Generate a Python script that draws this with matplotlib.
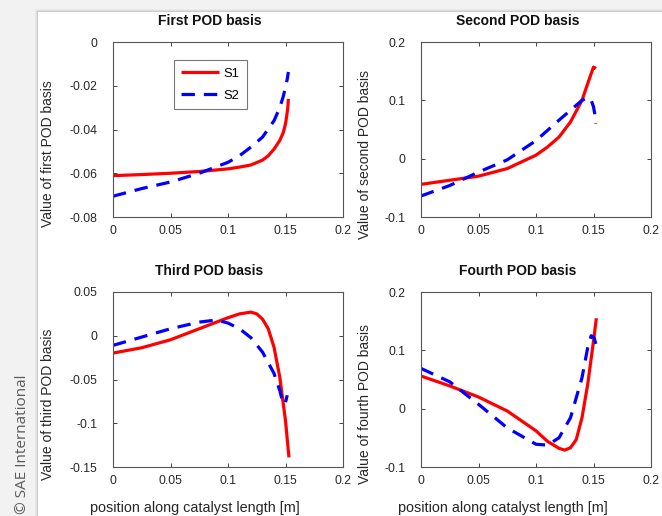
import matplotlib
matplotlib.use("Agg")
import matplotlib.pyplot as plt
from matplotlib.patches import Rectangle

plt.rcParams['font.family'] = ['Liberation Sans', 'DejaVu Sans']
plt.rcParams['axes.unicode_minus'] = False

# ---------------- data ----------------
x_ticks = [0, 0.05, 0.1, 0.15, 0.2]
x_tick_labels = ['0', '0.05', '0.1', '0.15', '0.2']

titles = ['First POD basis', 'Second POD basis', 'Third POD basis', 'Fourth POD basis']
ylabels = ['Value of first POD basis', 'Value of second POD basis',
           'Value of third POD basis', 'Value of fourth POD basis']
series_names = ['S1', 'S2']
xlabel_text = 'position along catalyst length [m]'

# First POD basis
b1_s1_x = [0, 0.025, 0.05, 0.075, 0.1, 0.11, 0.12, 0.13, 0.135, 0.14, 0.145, 0.148, 0.15, 0.151, 0.152, 0.1525]
b1_s1_y = [-0.0611, -0.0606, -0.060, -0.0592, -0.058, -0.0572, -0.0562, -0.054, -0.052, -0.049, -0.045,
           -0.0415, -0.0374, -0.034, -0.030, -0.026]
b1_s2_x = [0, 0.025, 0.05, 0.075, 0.1, 0.11, 0.12, 0.13, 0.14, 0.145, 0.148, 0.15, 0.1515, 0.1525]
b1_s2_y = [-0.0705, -0.067, -0.064, -0.060, -0.055, -0.052, -0.048, -0.0435, -0.036, -0.030, -0.025,
           -0.0206, -0.017, -0.0137]
b1_yticks = [-0.08, -0.06, -0.04, -0.02, 0]
b1_ylabels = ['-0.08', '-0.06', '-0.04', '-0.02', '0']

# Second POD basis
b2_s1_x = [0, 0.025, 0.05, 0.075, 0.1, 0.11, 0.12, 0.13, 0.14, 0.145, 0.15, 0.151, 0.152]
b2_s1_y = [-0.044, -0.037, -0.030, -0.017, 0.006, 0.020, 0.037, 0.063, 0.100, 0.129, 0.157, 0.156, 0.154]
b2_s2_x = [0, 0.025, 0.05, 0.075, 0.1, 0.12, 0.13, 0.14, 0.145, 0.148, 0.15, 0.151, 0.152]
b2_s2_y = [-0.064, -0.046, -0.023, -0.002, 0.031, 0.066, 0.083, 0.100, 0.105, 0.100, 0.089, 0.078, 0.060]
b2_yticks = [-0.1, 0, 0.1, 0.2]
b2_ylabels = ['-0.1', '0', '0.1', '0.2']

# Third POD basis
b3_s1_x = [0, 0.025, 0.05, 0.075, 0.1, 0.11, 0.12, 0.125, 0.13, 0.135, 0.14, 0.145, 0.15, 0.153]
b3_s1_y = [-0.0198, -0.0137, -0.0046, 0.008, 0.0206, 0.025, 0.027, 0.025, 0.019, 0.008, -0.013,
           -0.047, -0.097, -0.139]
b3_s2_x = [0, 0.025, 0.05, 0.075, 0.09, 0.1, 0.11, 0.12, 0.13, 0.14, 0.145, 0.148, 0.15, 0.1515]
b3_s2_y = [-0.011, -0.0015, 0.008, 0.0156, 0.018, 0.0145, 0.008, -0.0023, -0.0187, -0.043, -0.0625,
           -0.078, -0.076, -0.068]
b3_yticks = [-0.15, -0.1, -0.05, 0, 0.05]
b3_ylabels = ['-0.15', '-0.1', '-0.05', '0', '0.05']

# Fourth POD basis
b4_s1_x = [0, 0.025, 0.05, 0.075, 0.1, 0.11, 0.12, 0.125, 0.13, 0.135, 0.14, 0.145, 0.15, 0.1525]
b4_s1_y = [0.056, 0.039, 0.020, -0.004, -0.038, -0.056, -0.068, -0.071, -0.067, -0.053, -0.0155,
           0.042, 0.116, 0.155]
b4_s2_x = [0, 0.025, 0.05, 0.075, 0.1, 0.11, 0.12, 0.13, 0.14, 0.145, 0.148, 0.1505, 0.152]
b4_s2_y = [0.069, 0.046, 0.0075, -0.033, -0.061, -0.0625, -0.050, -0.0155, 0.053, 0.105, 0.125, 0.122, 0.111]
b4_yticks = [-0.1, 0, 0.1, 0.2]
b4_ylabels = ['-0.1', '0', '0.1', '0.2']

panels = [
    (b1_s1_x, b1_s1_y, b1_s2_x, b1_s2_y, b1_yticks, b1_ylabels),
    (b2_s1_x, b2_s1_y, b2_s2_x, b2_s2_y, b2_yticks, b2_ylabels),
    (b3_s1_x, b3_s1_y, b3_s2_x, b3_s2_y, b3_yticks, b3_ylabels),
    (b4_s1_x, b4_s1_y, b4_s2_x, b4_s2_y, b4_yticks, b4_ylabels),
]

# ---------------- figure ----------------
W, H = 662, 516
fig = plt.figure(figsize=(W / 100, H / 100), dpi=100)
fig.patch.set_facecolor('#f2f2f2')

# soft shadow + white panel (behind everything)
px0, py0 = 38, 12
for i, a in enumerate([0.03, 0.05, 0.08]):
    d = 3 - i
    fig.patches.append(Rectangle(((px0 - d) / W, 0), 1, 1 - (py0 - d) / H,
                                 transform=fig.transFigure, facecolor='#000000',
                                 alpha=a, edgecolor='none', zorder=-20))
fig.patches.append(Rectangle((px0 / W, 0), 1, 1 - py0 / H, transform=fig.transFigure,
                             facecolor='white', edgecolor='none', zorder=-10))

fig.text(23 / W, 1 - 444 / H, '\u00a9 SAE International', rotation=90, ha='center', va='center',
         fontsize=11, color='#5a5a5a', family=['Open Sans', 'DejaVu Sans'])

# axes positions in pixels (left, top, right, bottom)
boxes = [(113, 42, 343, 217), (421, 42, 651, 217), (113, 292, 343, 467), (421, 292, 651, 467)]
ylabel_x = [-0.252, -0.213, -0.252, -0.213]

axes = []
for k, (l, t, r, b) in enumerate(boxes):
    ax = fig.add_axes([l / W, 1 - b / H, (r - l) / W, (b - t) / H])
    ax.set_facecolor('none')
    axes.append(ax)
    s1x, s1y, s2x, s2y, yt, ytl = panels[k]
    ax.plot(s1x, s1y, color='#ff0000', lw=2.3, solid_capstyle='butt', label=series_names[0])
    ax.plot(s2x, s2y, color='#0000ff', lw=2.3, dashes=(4.2, 2.8), label=series_names[1])
    ax.set_xlim(0, 0.2)
    ax.set_ylim(yt[0], yt[-1])
    ax.set_xticks(x_ticks)
    ax.set_xticklabels(x_tick_labels)
    ax.set_yticks(yt)
    ax.set_yticklabels(ytl)
    ax.tick_params(direction='in', length=3, width=0.7, top=True, right=True,
                   labelsize=8.8, labelcolor='#262626', color='#444444')
    ax.tick_params(axis='x', pad=6)
    ax.tick_params(axis='y', pad=11)
    for sp in ax.spines.values():
        sp.set_color('#555555')
        sp.set_linewidth(0.8)
    ax.text(0.42, 1.12, titles[k], transform=ax.transAxes, ha='center', va='center',
            fontsize=10, fontweight='bold', color='#111111')
    ax.set_ylabel(ylabels[k], fontsize=10, color='#262626')
    ax.yaxis.set_label_coords(ylabel_x[k], 0.36)
    if k >= 2:
        ax.text(0.357, -0.234, xlabel_text, transform=ax.transAxes, ha='center', va='center',
                fontsize=10.4, color='#262626')

leg = axes[0].legend(loc='upper left', bbox_to_anchor=(0.265, 0.895), fontsize=9.4,
                     frameon=True, fancybox=False, handlelength=2.9, handletextpad=0.35,
                     borderpad=0.55, labelspacing=0.75, borderaxespad=0)
leg.get_frame().set_edgecolor('#555555')
leg.get_frame().set_linewidth(0.8)

fig.savefig('out.png', dpi=100, facecolor=fig.get_facecolor())
